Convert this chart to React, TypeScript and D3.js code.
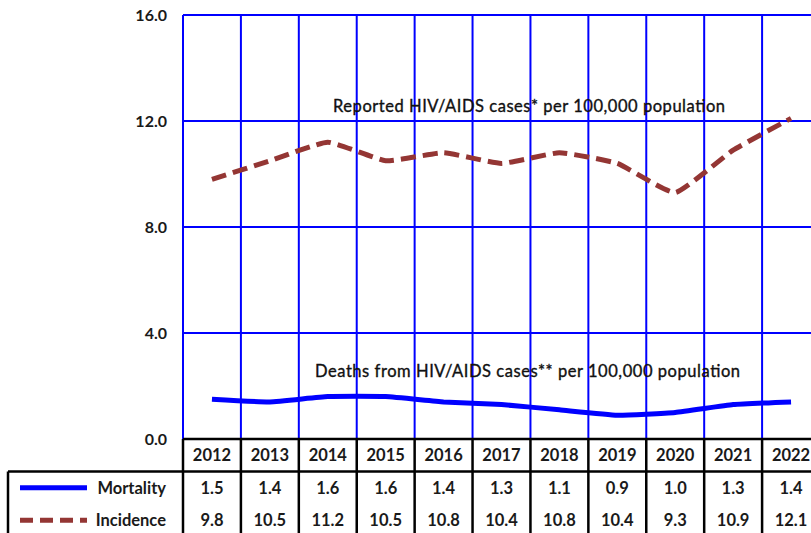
import React from "react";
import * as d3 from "d3";

const years = ["2012", "2013", "2014", "2015", "2016", "2017", "2018", "2019", "2020", "2021", "2022"];
const mortality = [1.5, 1.4, 1.6, 1.6, 1.4, 1.3, 1.1, 0.9, 1.0, 1.3, 1.4];
const incidence = [9.8, 10.5, 11.2, 10.5, 10.8, 10.4, 10.8, 10.4, 9.3, 10.9, 12.1];
const yTicks = [0, 4, 8, 12, 16];
const seriesNames = ["Mortality", "Incidence"];
const incidenceLabel = "Reported HIV/AIDS cases* per 100,000 population";
const mortalityLabel = "Deaths from HIV/AIDS cases** per 100,000 population";

const W = 811;
const H = 533;
const plotLeft = 183;
const plotRight = 820;
const plotTop = 15;
const plotBottom = 439;
const tableLeft = 8;
const rowH = 32.5;

const BLUE = "#0000FF";
const BROWN = "#943634";
const FONT = "Lato, 'Open Sans', sans-serif";

export default function App() {
  const x = d3.scaleBand<string>().domain(years).range([plotLeft, plotRight]).padding(0);
  const y = d3.scaleLinear().domain([0, 16]).range([plotBottom, plotTop]);
  const line = d3
    .line<number>()
    .x((_, i) => (x(years[i]) as number) + x.bandwidth() / 2)
    .y((d) => y(d))
    .curve(d3.curveCardinal.tension(0.6));

  const headerTop = plotBottom;
  const row1Top = headerTop + rowH;
  const row2Top = row1Top + rowH;
  const tableBottom = row2Top + rowH + 10;
  const rows = [mortality, incidence];

  return (
    <svg
      width={W}
      height={H}
      style={{ position: "absolute", left: 0, top: 0, background: "#fff" }}
      fontFamily={FONT}
    >
      {yTicks.map((t) => (
        <line key={"h" + t} x1={plotLeft} x2={plotRight} y1={y(t)} y2={y(t)} stroke={BLUE} strokeWidth={2} />
      ))}
      {years.map((yr) => (
        <line
          key={"v" + yr}
          x1={x(yr) as number}
          x2={x(yr) as number}
          y1={plotTop}
          y2={plotBottom}
          stroke={BLUE}
          strokeWidth={2}
        />
      ))}
      {yTicks.map((t) => (
        <text
          key={"t" + t}
          x={167}
          y={y(t)}
          dy="0.35em"
          textAnchor="end"
          fontSize={16}
          fontWeight="bold"
          fill="#1a1a1a"
        >
          {t.toFixed(1)}
        </text>
      ))}
      <path d={line(mortality) as string} fill="none" stroke={BLUE} strokeWidth={5} />
      <path
        d={line(incidence) as string}
        fill="none"
        stroke={BROWN}
        strokeWidth={5}
        strokeDasharray="15,7"
      />
      <text
        x={333}
        y={106}
        dy="0.35em"
        fontSize={16.5}
        fill="#111"
        stroke="#111"
        strokeWidth={0.35}
        textLength={392}
        lengthAdjust="spacing"
      >
        {incidenceLabel}
      </text>
      <text
        x={315}
        y={371}
        dy="0.35em"
        fontSize={16.5}
        fill="#111"
        stroke="#111"
        strokeWidth={0.35}
        textLength={425}
        lengthAdjust="spacing"
      >
        {mortalityLabel}
      </text>

      <line x1={plotLeft} x2={plotRight} y1={headerTop} y2={headerTop} stroke="#000" strokeWidth={2.5} />
      <line x1={tableLeft} x2={plotRight} y1={row1Top} y2={row1Top} stroke="#000" strokeWidth={2.5} />
      <line x1={tableLeft} x2={tableLeft} y1={row1Top} y2={tableBottom} stroke="#000" strokeWidth={2.5} />
      {years.map((yr) => (
        <line
          key={"c" + yr}
          x1={x(yr) as number}
          x2={x(yr) as number}
          y1={headerTop}
          y2={tableBottom}
          stroke="#000"
          strokeWidth={2.5}
        />
      ))}
      {years.map((yr) => (
        <text
          key={"yr" + yr}
          x={(x(yr) as number) + x.bandwidth() / 2}
          y={headerTop + rowH / 2}
          dy="0.35em"
          textAnchor="middle"
          fontSize={16.5}
          fontWeight="bold"
          fill="#1a1a1a"
        >
          {yr}
        </text>
      ))}
      {rows.map((vals, r) =>
        vals.map((v, i) => (
          <text
            key={"v" + r + "-" + i}
            x={(x(years[i]) as number) + x.bandwidth() / 2}
            y={row1Top + rowH * r + rowH / 2}
            dy="0.35em"
            textAnchor="middle"
            fontSize={16.5}
            fontWeight="bold"
            fill="#1a1a1a"
          >
            {v.toFixed(1)}
          </text>
        ))
      )}
      <line x1={20} x2={87} y1={row1Top + rowH / 2} y2={row1Top + rowH / 2} stroke={BLUE} strokeWidth={5} />
      <line
        x1={20}
        x2={87}
        y1={row2Top + rowH / 2}
        y2={row2Top + rowH / 2}
        stroke={BROWN}
        strokeWidth={5}
        strokeDasharray="13,7"
      />
      {seriesNames.map((n, r) => (
        <text
          key={n}
          x={166}
          y={row1Top + rowH * r + rowH / 2}
          dy="0.35em"
          textAnchor="end"
          fontSize={16.5}
          fontWeight="bold"
          fill="#1a1a1a"
        >
          {n}
        </text>
      ))}
    </svg>
  );
}
